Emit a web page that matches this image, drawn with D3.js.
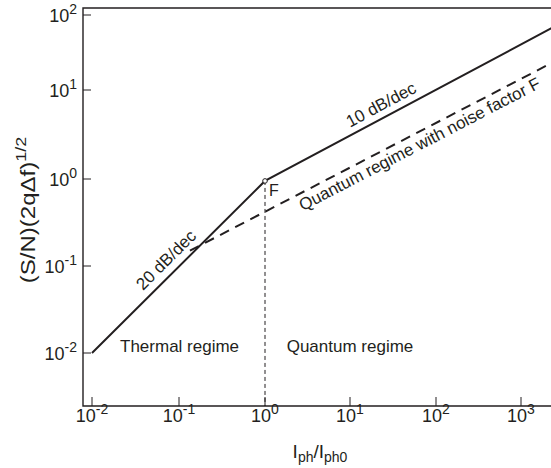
<!DOCTYPE html>
<html>
<head>
<meta charset="utf-8">
<script src="https://cdn.jsdelivr.net/npm/d3@7"></script>
<style>
  html, body { margin: 0; padding: 0; background: #fff; }
  svg { display: block; font-family: "Liberation Sans", Arial, sans-serif; }
</style>
</head>
<body>
<svg id="chart" width="551" height="468"></svg>
<script>
// ---- data ----
const xTickValues = [0.01, 0.1, 1, 10, 100, 1000];
const xTickExponents = ["-2", "-1", "0", "1", "2", "3"];
const yTickValues = [0.01, 0.1, 1, 10, 100];
const yTickExponents = ["-2", "-1", "0", "1", "2"];

// ideal detector S/N curve: thermal regime (20 dB/dec) then quantum regime (10 dB/dec)
const solidX = [0.01, 1, 2300];
const solidY = [0.01, 0.95, 67];
// quantum regime with noise factor F
const dashedX = [0.134, 2300];
const dashedY = [0.15, 23];
// knee point F
const kneeX = [1];
const kneeY = [0.95];

const slopeLabels = ["20 dB/dec", "10 dB/dec", "Quantum regime with noise factor F"];
const slopeLabelX = [0.092, 27, 56];
const slopeLabelLine = ["solid", "solid", "dashed"];
const slopeLabelDy = [-8, -7, 17];

const regimeLabels = ["Thermal regime", "Quantum regime"];
const regimeLabelX = [0.021, 1.8];
const regimeLabelY = [0.0103, 0.0103];

// ---- layout ----
const W = 551, H = 468;
const plot = { left: 83, right: 551, top: 8, bottom: 406 };
const ink = "#231f20";

const x = d3.scaleLog().domain(xTickValues).range([92, 179, 265, 350, 436, 521]);
const y = d3.scaleLog().domain(yTickValues).range([353, 266, 179, 90, 15]);

const svg = d3.select("#chart");

svg.append("defs").append("clipPath").attr("id", "clip")
  .append("rect").attr("x", plot.left).attr("y", plot.top)
  .attr("width", plot.right - plot.left).attr("height", plot.bottom - plot.top);

// frame: left, top, bottom
svg.append("path")
  .attr("d", `M${plot.right},${plot.top}H${plot.left}V${plot.bottom}H${plot.right}`)
  .attr("fill", "none").attr("stroke", ink).attr("stroke-width", 1.4);

// ticks (inward)
svg.append("g").selectAll("line").data(xTickValues).join("line")
  .attr("x1", d => x(d)).attr("x2", d => x(d))
  .attr("y1", plot.bottom).attr("y2", plot.bottom - 9)
  .attr("stroke", ink).attr("stroke-width", 1);
svg.append("g").selectAll("line").data(yTickValues).join("line")
  .attr("x1", plot.left).attr("x2", plot.left + 8)
  .attr("y1", d => y(d)).attr("y2", d => y(d))
  .attr("stroke", ink).attr("stroke-width", 1);

// tick labels
const xl = svg.append("g").selectAll("text").data(xTickValues).join("text")
  .attr("x", d => x(d)).attr("y", plot.bottom + 16)
  .attr("text-anchor", "middle").attr("fill", ink).attr("font-size", 18);
xl.append("tspan").text("10");
xl.append("tspan").attr("font-size", 14).attr("dy", -8).text((d, i) => xTickExponents[i]);

const yl = svg.append("g").selectAll("text").data(yTickValues).join("text")
  .attr("x", 77).attr("y", d => y(d) + 7)
  .attr("text-anchor", "end").attr("fill", ink).attr("font-size", 18);
yl.append("tspan").text("10");
yl.append("tspan").attr("font-size", 14).attr("dy", -8).text((d, i) => yTickExponents[i]);

// axis titles
const xt = svg.append("text").attr("x", 320).attr("y", 458)
  .attr("text-anchor", "middle").attr("fill", ink).attr("font-size", 19);
xt.append("tspan").text("I");
xt.append("tspan").attr("font-size", 14).attr("dy", 4).text("ph");
xt.append("tspan").attr("dy", -4).text("/I");
xt.append("tspan").attr("font-size", 14).attr("dy", 4).text("ph0");

const yt = svg.append("text").attr("transform", "translate(35,210) rotate(-90) scale(1.2,1)")
  .attr("text-anchor", "middle").attr("fill", ink).attr("font-size", 20);
yt.append("tspan").text("(S/N)(2q\u0394f)");
yt.append("tspan").attr("font-size", 15).attr("dy", -9).text("1/2");

// curves
const line = d3.line().x(d => x(d[0])).y(d => y(d[1]));
const solid = solidX.map((v, i) => [v, solidY[i]]);
const dashed = dashedX.map((v, i) => [v, dashedY[i]]);
const g = svg.append("g").attr("clip-path", "url(#clip)");

g.append("line")
  .attr("x1", x(kneeX[0])).attr("x2", x(kneeX[0]))
  .attr("y1", y(kneeY[0])).attr("y2", plot.bottom)
  .attr("stroke", ink).attr("stroke-width", 1).attr("stroke-dasharray", "4,3");

g.append("path").attr("d", line(dashed))
  .attr("fill", "none").attr("stroke", ink).attr("stroke-width", 2)
  .attr("stroke-dasharray", "10,7");

g.append("path").attr("d", line(solid))
  .attr("fill", "none").attr("stroke", ink).attr("stroke-width", 2);

g.append("circle").attr("cx", x(kneeX[0])).attr("cy", y(kneeY[0])).attr("r", 2.3)
  .attr("fill", "#fff").attr("stroke", ink).attr("stroke-width", 1);

svg.append("text").attr("x", x(kneeX[0]) + 4).attr("y", y(kneeY[0]) + 15)
  .attr("fill", ink).attr("font-size", 16).text("F");

// slope labels along the lines
function pointOn(pts, xv) {
  const px = x(xv);
  for (let i = 0; i < pts.length - 1; i++) {
    const a = [x(pts[i][0]), y(pts[i][1])], b = [x(pts[i + 1][0]), y(pts[i + 1][1])];
    if (px >= a[0] && px <= b[0]) {
      const t = (px - a[0]) / (b[0] - a[0]);
      return { x: px, y: a[1] + t * (b[1] - a[1]), angle: Math.atan2(b[1] - a[1], b[0] - a[0]) * 180 / Math.PI };
    }
  }
  return null;
}
slopeLabels.forEach((txt, i) => {
  const p = pointOn(slopeLabelLine[i] === "solid" ? solid : dashed, slopeLabelX[i]);
  svg.append("text")
    .attr("transform", `translate(${p.x},${p.y}) rotate(${p.angle})`)
    .attr("dy", slopeLabelDy[i]).attr("text-anchor", "middle")
    .attr("fill", ink).attr("font-size", 17).text(txt);
});

svg.append("g").selectAll("text").data(regimeLabels).join("text")
  .attr("x", (d, i) => x(regimeLabelX[i])).attr("y", (d, i) => y(regimeLabelY[i]))
  .attr("fill", ink).attr("font-size", 17).text(d => d);
</script>
</body>
</html>
